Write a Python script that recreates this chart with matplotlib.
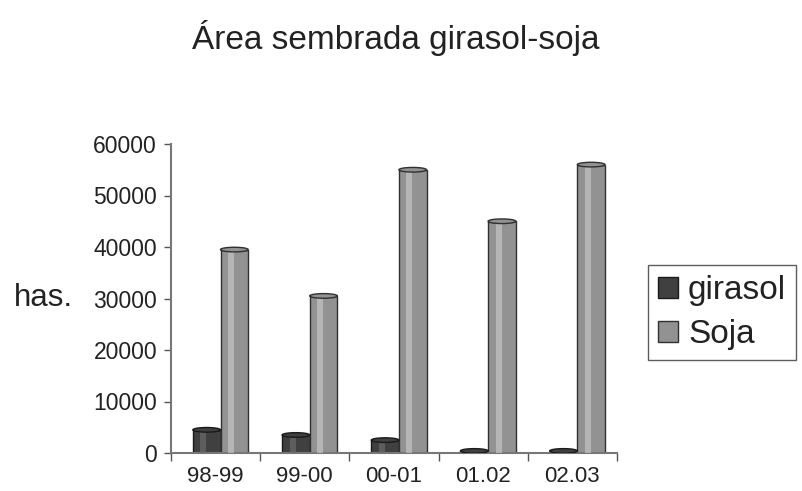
import matplotlib
matplotlib.use('Agg')
import matplotlib.pyplot as plt
import numpy as np
from matplotlib.patches import Ellipse

plt.rcParams['font.family'] = ['Liberation Sans', 'DejaVu Sans']

# data
campanas = ['98-99', '99-00', '00-01', '01.02', '02.03']
girasol = [4500, 3500, 2500, 400, 400]
soja = [39500, 30500, 55000, 45000, 56000]
yticks = [0, 10000, 20000, 30000, 40000, 50000, 60000]

fig = plt.figure(figsize=(8.03, 4.91), dpi=100)
ax = fig.add_axes([171/803, 1-453/491, (617-171)/803, (453-144)/491])

x = np.arange(len(campanas))
w = 0.31
col_g = '#404040'
col_s = '#929292'

def cylinders(xpos, vals, color, light, dark):
    ax.bar(xpos, vals, w, color=color, edgecolor=dark, linewidth=1.0, zorder=2)
    # highlight stripe to fake the round shape
    ax.bar(xpos - w*0.12, vals, w*0.22, color=light, linewidth=0, zorder=3, alpha=0.7)
    for xi, v in zip(xpos, vals):
        ax.add_patch(Ellipse((xi, v), w, 900, facecolor=color, edgecolor=dark, lw=1.0, zorder=4))

cylinders(x - 0.10, girasol, col_g, '#6a6a6a', '#1a1a1a')
cylinders(x + 0.21, soja, col_s, '#c4c4c4', '#303030')

ax.set_xlim(-0.5, len(campanas) - 0.5)
ax.set_ylim(0, 60000)
ax.set_yticks(yticks)
ax.set_yticklabels([str(t) for t in yticks], fontsize=16.5, color='#222222')
ax.set_xticks(x)
ax.set_xticklabels(campanas, fontsize=16, color='#222222')
ax.tick_params(axis='x', length=0, pad=9)
ax.tick_params(axis='y', length=5, width=1, color='#555555', pad=5)
# small ticks between the categories
ax.set_xticks(np.arange(len(campanas) + 1) - 0.5, minor=True)
ax.tick_params(axis='x', which='minor', length=6, width=1, color='#555555')

for s in ['top', 'right']:
    ax.spines[s].set_visible(False)
ax.spines['left'].set_color('#777777')
ax.spines['bottom'].set_color('#777777')
ax.spines['left'].set_linewidth(1.5)
ax.spines['bottom'].set_linewidth(1.5)

fig.text(396/803, 1-38/491, 'Área sembrada girasol-soja', ha='center', va='center',
         fontsize=24, color='#222222')
fig.text(43/803, 1-298/491, 'has.', ha='center', va='center', fontsize=22.5, color='#222222')

h1 = plt.Rectangle((0, 0), 1, 1, facecolor=col_g, edgecolor='#1a1a1a')
h2 = plt.Rectangle((0, 0), 1, 1, facecolor=col_s, edgecolor='#303030')
leg = fig.legend([h1, h2], ['girasol', 'Soja'], loc='upper left',
                 bbox_to_anchor=(648/803, 1-265/491), fontsize=24, frameon=True,
                 fancybox=False, edgecolor='#333333', handlelength=0.6,
                 handleheight=0.6, handletextpad=0.3, borderpad=0.3,
                 labelspacing=0.4, borderaxespad=0)
leg.get_frame().set_linewidth(1.0)
for t in leg.get_texts():
    t.set_color('#222222')

fig.savefig('out.png', dpi=100)
